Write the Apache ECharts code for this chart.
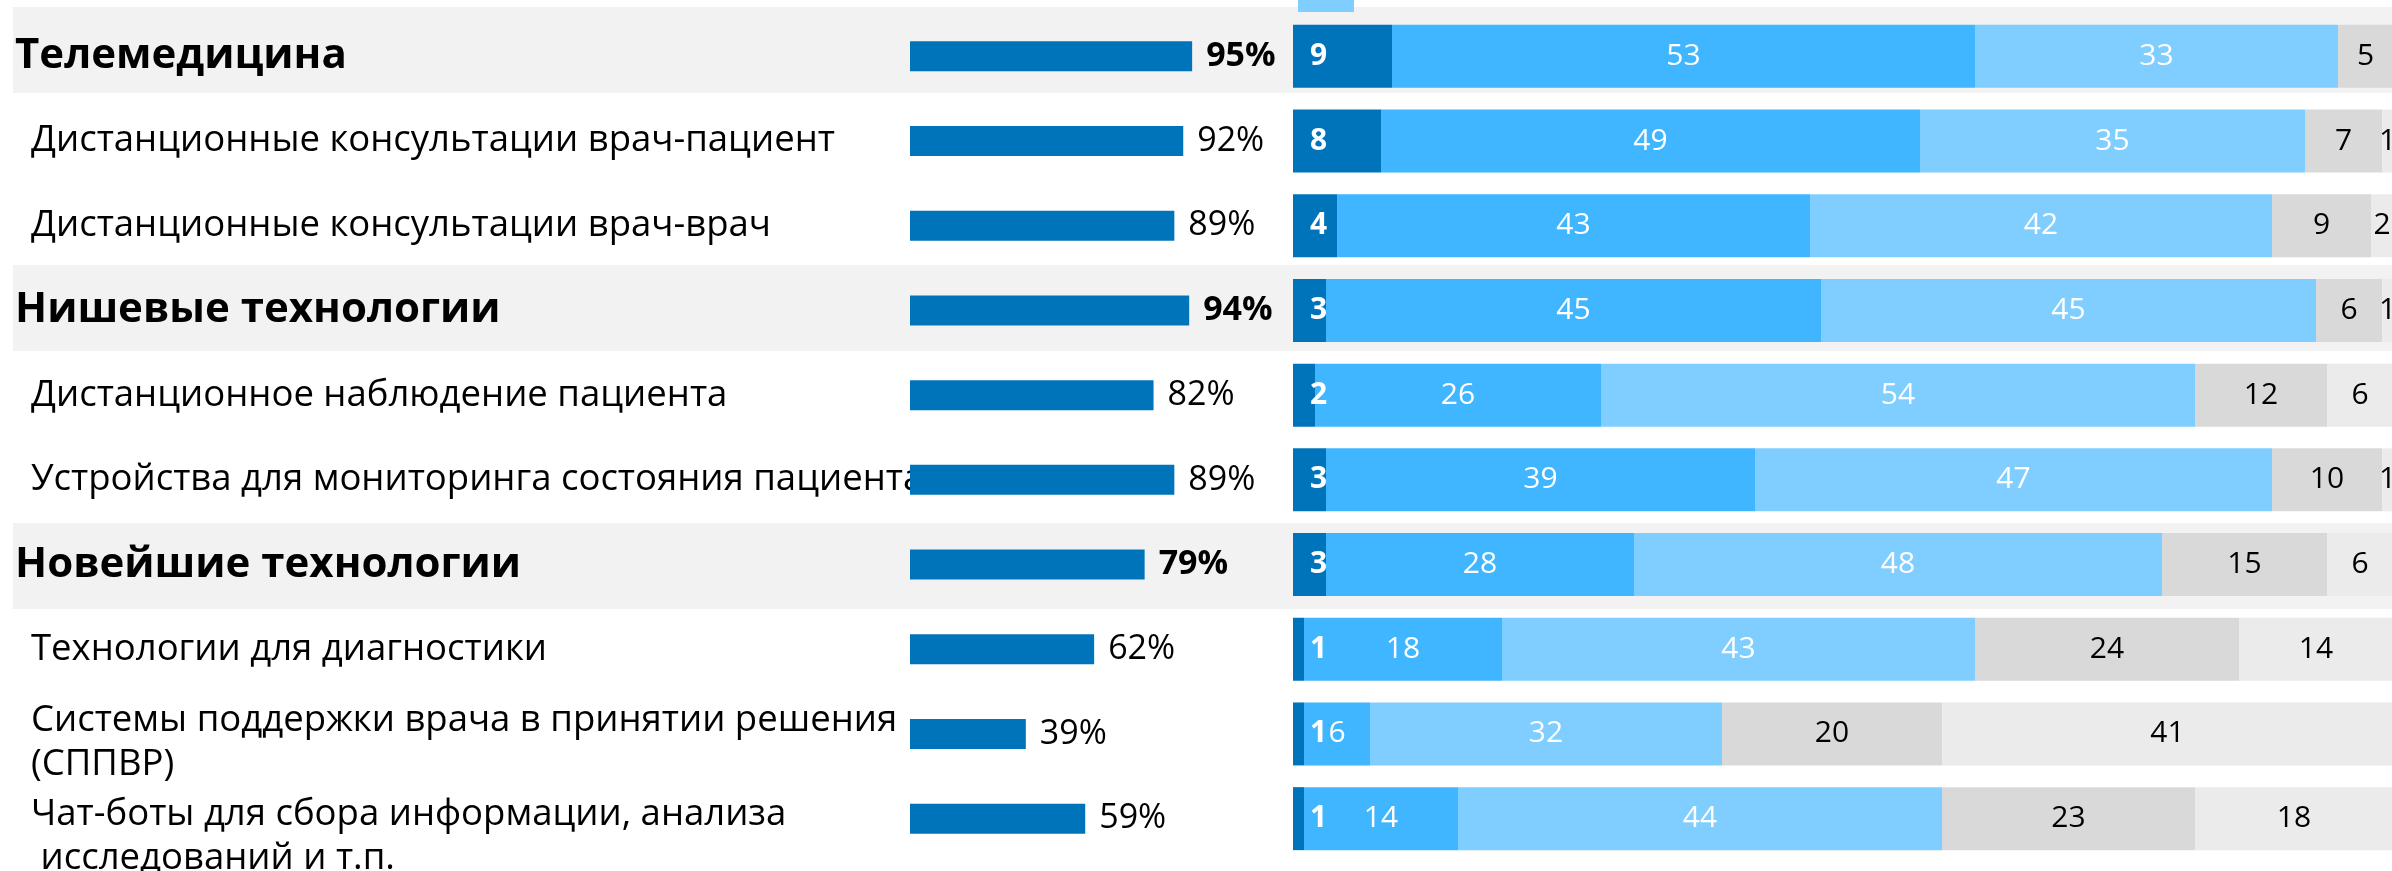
<!DOCTYPE html>
<html>
<head>
<meta charset="utf-8">
<script src="https://cdn.jsdelivr.net/npm/echarts@6/dist/echarts.min.js"></script>
<style>
	html, body { margin: 0; padding: 0; background: #fff; }
	#chart { width: 2392px; height: 871px; }
</style>
</head>
<body>
<div id="chart"></div>
<script>
// категории (сверху вниз)
const categories = [
	'Телемедицина',
	'Дистанционные консультации врач-пациент',
	'Дистанционные консультации врач-врач',
	'Нишевые технологии',
	'Дистанционное наблюдение пациента',
	'Устройства для мониторинга состояния пациента',
	'Новейшие технологии',
	'Технологии для диагностики',
	'Системы поддержки врача в принятии решения\n(СППВР)',
	'Чат-боты для сбора информации, анализа\n исследований и т.п.'
];
const isHeader = [true, false, false, true, false, false, true, false, false, false];

// общий процент (левая часть)
const totalPct = [95, 92, 89, 94, 82, 89, 79, 62, 39, 59];

// распределение ответов (правая часть), сумма = 100
const seg1 = [9, 8, 4, 3, 2, 3, 3, 1, 1, 1];
const seg2 = [53, 49, 43, 45, 26, 39, 28, 18, 6, 14];
const seg3 = [33, 35, 42, 45, 54, 47, 48, 43, 32, 44];
const seg4 = [5, 7, 9, 6, 12, 10, 15, 24, 20, 23];
const seg5 = [0, 1, 2, 1, 6, 1, 6, 14, 41, 18];
const segNames = ['Группа 1', 'Группа 2', 'Группа 3', 'Группа 4', 'Группа 5'];

const FONT = '"Open Sans", "Noto Sans", sans-serif';
const colors = ['#0074BA', '#3FB6FF', '#7FCEFF', '#D9D9D9', '#EBEBEB'];
const labelColors = ['#fff', '#fff', '#fff', '#000', '#000'];

const chart = echarts.init(document.getElementById('chart'), null, { renderer: 'canvas' });

const gridTop = 14;
const gridHeight = 847;

// двухстрочные подписи сдвинуты вниз пустой строкой-распоркой
const labelFormatter = (value, index) => {
	if (value.indexOf('\n') < 0) return value;
	const sp = index === 9 ? 'sp2' : 'sp1';
	return '{' + sp + '| }\n' + value.split('\n').map(l => '{m|' + l + '}').join('\n');
};

const yCat = (idx, show) => ({
	type: 'category',
	gridIndex: idx,
	inverse: true,
	data: show
		? categories.map((c, i) => ({
				value: c,
				textStyle: {
					align: 'left',
					fontWeight: isHeader[i] ? 'bold' : 'normal',
					fontSize: isHeader[i] ? 42 : 36.5,
					padding: isHeader[i] ? 0 : [0, 0, 0, 16],
				},
		  }))
		: categories,
	axisLine: { show: false },
	axisTick: { show: false },
	axisLabel: show
		? {
				show: true,
				interval: 0,
				hideOverlap: false,
				align: 'left',
				margin: 895,
				color: '#000',
				fontFamily: FONT,
				formatter: labelFormatter,
				rich: {
					m: { fontFamily: FONT, fontSize: 36.5, lineHeight: 44, color: '#000' },
					sp1: { fontSize: 1, lineHeight: 18 },
					sp2: { fontSize: 1, lineHeight: 35 },
				},
		  }
		: { show: false },
	splitLine: { show: false },
	z: 0,
});

const xVal = (idx, max) => ({
	type: 'value',
	gridIndex: idx,
	min: 0,
	max: max,
	show: false,
});

const stackData = [seg1, seg2, seg3, seg4, seg5];

const stackSeries = stackData.map((arr, k) => ({
	name: segNames[k],
	type: 'bar',
	stack: 'total',
	xAxisIndex: 2,
	yAxisIndex: 2,
	barWidth: 63,
	itemStyle: { color: colors[k] },
	z: 2,
	label: {
		show: true,
		position: k === 0 ? [17, '50%'] : 'inside',
		align: k === 0 ? 'left' : 'center',
		verticalAlign: 'middle',
		color: labelColors[k],
		fontFamily: FONT,
		fontSize: 30,
		fontWeight: k === 0 ? 'bold' : 'normal',
		formatter: p => (p.value ? p.value : ''),
	},
	data: arr,
}));

const option = {
	animation: false,
	backgroundColor: '#fff',
	legend: {
		data: [segNames[2]],
		left: 1293,
		top: -7,
		itemWidth: 56,
		itemHeight: 14,
		itemGap: 0,
		icon: 'rect',
		formatter: () => '',
		textStyle: { fontSize: 1 },
		selectedMode: false,
	},
	grid: [
		{ left: 13, right: 0, top: 7, height: 860, outerBoundsMode: 'none', containLabel: false },
		{ left: 910, width: 297, top: gridTop, height: gridHeight, outerBoundsMode: 'none', containLabel: false },
		{ left: 1293, width: 1100, top: gridTop, height: gridHeight, outerBoundsMode: 'none', containLabel: false },
	],
	xAxis: [xVal(0, 1), xVal(1, 100), xVal(2, 100)],
	yAxis: [yCat(0, false), yCat(1, true), yCat(2, false)],
	series: [
		{
			// серые полосы-заголовки
			type: 'bar',
			xAxisIndex: 0,
			yAxisIndex: 0,
			barWidth: 86,
			silent: true,
			z: -1,
			itemStyle: { color: '#F2F2F2' },
			data: isHeader.map(h => (h ? 1 : '-')),
		},
		{
			type: 'bar',
			xAxisIndex: 1,
			yAxisIndex: 1,
			barWidth: 30,
			z: 2,
			itemStyle: { color: '#0074BA' },
			label: {
				show: true,
				position: 'right',
				distance: 14,
				color: '#000',
				fontFamily: FONT,
				fontSize: 34,
				formatter: '{c}%',
			},
			data: totalPct.map((v, i) => ({
				value: v,
				label: { fontWeight: isHeader[i] ? 'bold' : 'normal' },
			})),
		},
		...stackSeries,
	],
};

chart.setOption(option);
</script>
</body>
</html>
